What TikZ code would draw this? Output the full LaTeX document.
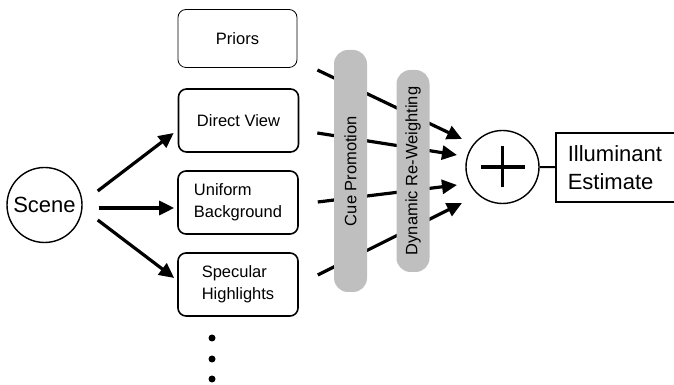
\documentclass[tikz,border=0pt]{standalone}
\usepackage{fontspec}
\setmainfont{Liberation Sans}
\usetikzlibrary{arrows.meta}

\begin{document}
\begin{tikzpicture}[x=1pt,y=1pt,
    cue/.style={draw,rounded corners=8pt,line width=1.6pt,minimum width=120pt,minimum height=63pt,align=left,font=\fontsize{16.5}{22}\selectfont},
    bar/.style={fill=black!25,rounded corners=14pt,minimum height=33pt,rotate=90,font=\fontsize{16.5}{20}\selectfont},
    feed/.style={line width=3.2pt,-{Triangle[length=15pt,width=14pt]}},
    dot/.style={circle,fill,inner sep=0pt,minimum size=7pt}]
    \useasboundingbox (0,0) rectangle (674,385);

    %SCENE
    \node (scene) at (44.5,180) [circle,draw,line width=1.4pt,minimum size=75pt,inner sep=0pt,font=\fontsize{22}{26}\selectfont] {Scene};

    %CUES
    \node (priors) at (237.5,346.5) [cue,line width=0.8pt,minimum width=119pt,minimum height=58pt] {Priors};
    \node (direct) at (238.5,264.5) [cue] {Direct View};
    \node (uniform) at (238,182.5) [cue] {Uniform\\Background};
    \node (specular) at (238,100.5) [cue] {Specular\\Highlights};
    \node (dot1) at (212,47) [dot] {};
    \node (dot2) at (212,26) [dot] {};
    \node (dot3) at (212,6) [dot] {};

    \draw [feed] ([shift={(15,14)}]scene.east) -- ([shift={(-4,-12.5)}]direct.west);
    \draw [feed] ([shift={(16,-3)}]scene.east) -- ([shift={(-3,-5.5)}]uniform.west);
    \draw [feed] ([shift={(15,-15)}]scene.east) -- ([shift={(-3,6.5)}]specular.west);

    %SUM
    \node (sum) at (502.5,218) [circle,draw,line width=1.4pt,minimum size=73pt] {};
    \draw [line width=3.5pt] ([xshift=-22pt]sum.center) -- ([xshift=22pt]sum.center);
    \draw [line width=3.5pt] ([yshift=-20.5pt]sum.center) -- ([yshift=20.5pt]sum.center);

    \draw [feed] ([shift={(20,-31.5)}]priors.east) -- ([shift={(-40.5,28)}]sum.center);
    \draw [feed] ([shift={(18,-12.5)}]direct.east) -- ([shift={(-45.5,12)}]sum.center);
    \draw [feed] ([shift={(19,0.5)}]uniform.east) -- ([shift={(-45.5,-18)}]sum.center);
    \draw [feed] ([shift={(19,9.5)}]specular.east) -- ([shift={(-40.5,-36)}]sum.center);

    %WEIGHTING
    \node (promotion) at (350.5,214) [bar,minimum width=242pt] {Cue Promotion};
    \node (reweight) at (413,214) [bar,minimum width=202pt] {Dynamic Re-Weighting};

    %OUTPUT
    \node (estimate) at (555,217.5) [anchor=west,draw,line width=1.6pt,minimum height=69pt,inner xsep=12pt,text width=113pt,align=left,font=\fontsize{22}{28}\selectfont] {Illuminant\\Estimate};
    \draw [line width=2pt] (sum) -- (estimate);
\end{tikzpicture}
\end{document}
